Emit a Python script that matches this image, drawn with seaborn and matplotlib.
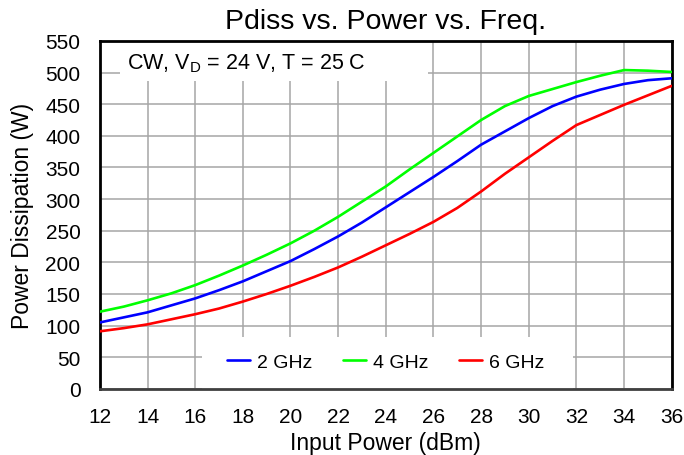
import numpy as np
import pandas as pd
import seaborn as sns
import matplotlib.pyplot as plt
from matplotlib.patches import Rectangle

# input power (dBm)
pin = list(range(12, 37))
# power dissipation (W)
p_2ghz = [105, 113, 121, 132, 143, 156, 170, 186, 202, 221, 241, 263, 287,
          311, 335, 360, 386, 407, 428, 447, 462, 473, 482, 488, 491]
p_4ghz = [122, 130, 140, 151, 164, 179, 195, 212, 230, 250, 272, 296, 320,
          347, 373, 399, 425, 447, 463, 474, 485, 495, 504, 503, 501]
p_6ghz = [91, 96, 102, 110, 118, 127, 138, 150, 163, 177, 192, 209, 227,
          245, 264, 286, 312, 340, 366, 392, 417, 433, 449, 464, 479]
freqs = ['2 GHz', '4 GHz', '6 GHz']
colors = ['#0000ff', '#00ff00', '#ff0000']

df = pd.DataFrame({
    'pin': pin * 3,
    'pdiss': p_2ghz + p_4ghz + p_6ghz,
    'freq': [f for f in freqs for _ in pin],
})

sns.set_style('white')
plt.rcParams['font.family'] = ['Liberation Sans', 'DejaVu Sans']
plt.rcParams['mathtext.fontset'] = 'custom'
plt.rcParams['mathtext.rm'] = 'Liberation Sans'
plt.rcParams['text.color'] = 'black'
plt.rcParams['axes.labelcolor'] = 'black'
plt.rcParams['xtick.labelcolor'] = 'black'
plt.rcParams['ytick.labelcolor'] = 'black'

fig = plt.figure(figsize=(6.84, 4.56), dpi=100)
ax = fig.add_axes([0.146, 0.145, 0.836, 0.763])

sns.lineplot(data=df, x='pin', y='pdiss', hue='freq', palette=colors,
             linewidth=1.9, ax=ax, zorder=4)

ax.set_xlim(12, 36)
ax.set_ylim(0, 550)
ax.set_xticks(np.arange(12, 37, 2))
ax.set_yticks(np.arange(0, 551, 50))
ax.grid(True, color='#a6a6a6', linewidth=1.1)
ax.set_axisbelow(True)
for s in ax.spines.values():
    s.set_color('black')
    s.set_linewidth(2)
ax.spines['bottom'].set_color('#404040')
ax.tick_params(axis='x', direction='in', length=4, width=1, color='#a6a6a6',
               labelsize=15, pad=13, labelcolor='black')
ax.tick_params(axis='y', length=0, labelsize=15, pad=14, labelcolor='black')

ax.set_title('Pdiss vs. Power vs. Freq.', fontsize=20.5, pad=9, color='black')
ax.set_xlabel('Input Power (dBm)', fontsize=16.5, labelpad=4)
ax.set_ylabel('Power Dissipation (W)', fontsize=16.5, labelpad=8)

# white boxes that hide the grid behind the note and the legend
ax.add_patch(Rectangle((0.035, 0.885), 0.538, 0.115, transform=ax.transAxes,
                       facecolor='white', edgecolor='none', zorder=2))
ax.add_patch(Rectangle((0.178, 0.0), 0.649, 0.149, transform=ax.transAxes,
                       facecolor='white', edgecolor='none', zorder=2))

ax.text(0.047, 0.937, r'CW, V$_\mathregular{D}$ = 24 V, T = 25 C',
        transform=ax.transAxes, fontsize=15.5, va='center', ha='left',
        color='black', zorder=3)

leg = ax.legend(loc='center', bbox_to_anchor=(0.5, 0.078), ncol=3,
                frameon=False, fontsize=14, handlelength=1.15,
                columnspacing=1.6, handletextpad=0.37)
for t in leg.get_texts():
    t.set_color('black')
leg.set_zorder(5)

fig.savefig('out.png', dpi=100)
